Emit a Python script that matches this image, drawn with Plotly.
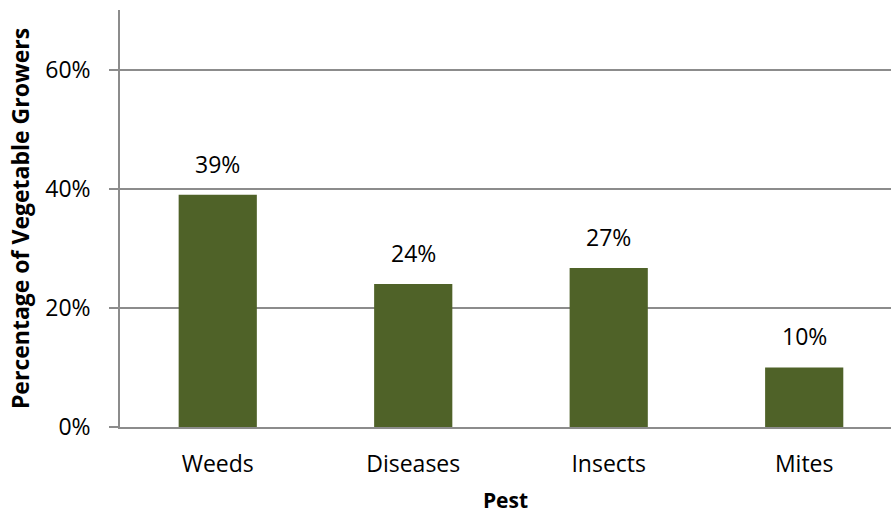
import plotly.graph_objects as go

categories = ["Weeds", "Diseases", "Insects", "Mites"]
values = [0.39, 0.24, 0.267, 0.10]
labels = ["39%", "24%", "27%", "10%"]
y_ticks = [0, 0.2, 0.4, 0.6]
y_tick_text = ["0%", "20%", "40%", "60%"]

BAR = "#4F6228"
GRID = "#8C8C8C"
FONT = "Open Sans"

fig = go.Figure()
fig.add_trace(go.Bar(
    x=categories, y=values, marker=dict(color=BAR, line=dict(width=0)),
    width=0.4, hoverinfo="skip",
))
for c, v, t in zip(categories, values, labels):
    fig.add_annotation(x=c, y=v, text=t, showarrow=False, yanchor="bottom",
                       yshift=13, font=dict(family=FONT, size=23, color="#000"))

fig.update_layout(
    width=891, height=518,
    margin=dict(l=120, r=0, t=10, b=91),
    plot_bgcolor="white", paper_bgcolor="white",
    showlegend=False,
    font=dict(family=FONT, size=23, color="#000"),
)
fig.update_xaxes(
    range=[-0.5, 3.444], showgrid=False, showline=True, linecolor=GRID, linewidth=1.5,
    ticks="", ticklabelstandoff=16,
    tickfont=dict(family=FONT, size=23, color="#000"),
    title=dict(text="<b>Pest</b>", font=dict(family=FONT, size=21, color="#000"), standoff=15),
)
fig.update_yaxes(
    range=[0, 0.7], tickvals=y_ticks, ticktext=y_tick_text,
    showgrid=True, gridcolor=GRID, gridwidth=1.5,
    showline=True, linecolor=GRID, linewidth=1.5,
    ticks="outside", ticklen=9, tickcolor=GRID, tickwidth=1.5,
    ticklabelstandoff=14,
    zeroline=False,
    tickfont=dict(family=FONT, size=23, color="#000"),
    title=dict(text="<b>Percentage of Vegetable Growers</b>",
               font=dict(family=FONT, size=23, color="#000"), standoff=9),
)

fig.write_html("out.html")
